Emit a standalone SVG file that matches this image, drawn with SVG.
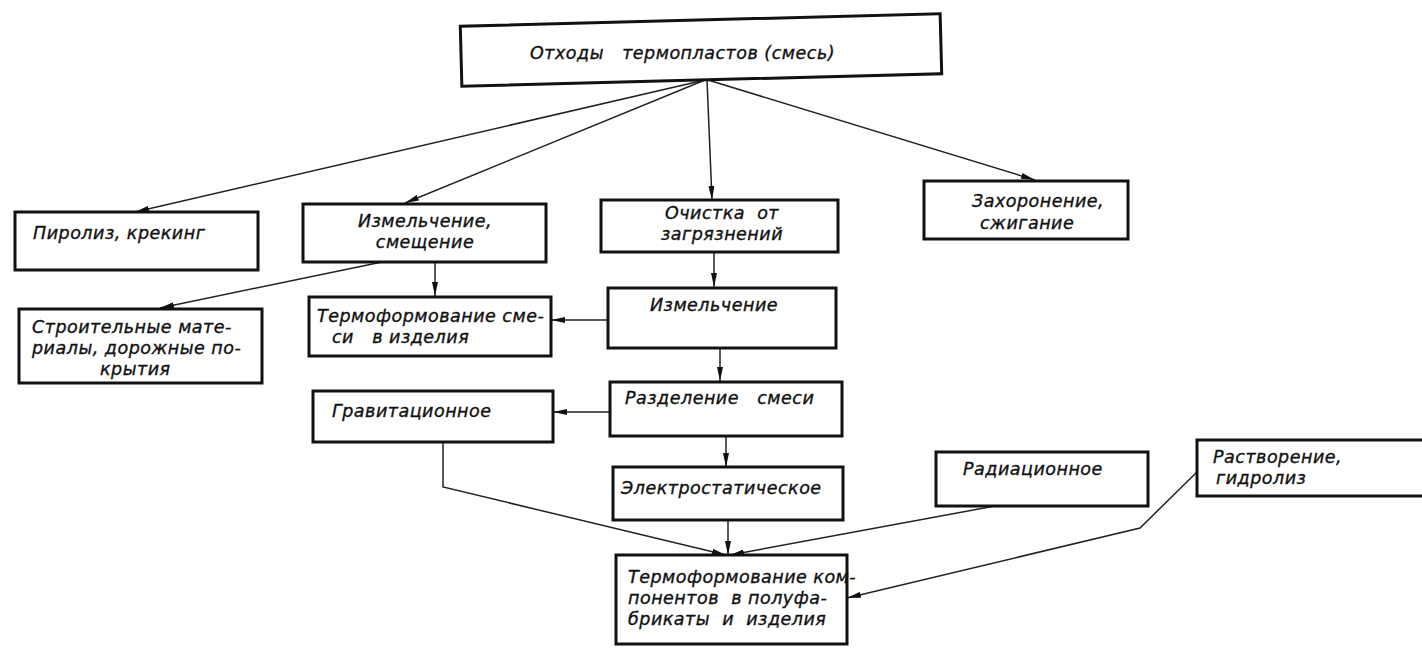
<svg xmlns="http://www.w3.org/2000/svg" width="1422" height="648" viewBox="0 0 1422 648">
<defs>
<marker id="ah" viewBox="0 0 14 6" refX="14" refY="3" markerWidth="14" markerHeight="6" markerUnits="userSpaceOnUse" orient="auto">
<path d="M0,0 L14,3 L0,6 Z" fill="#111"/>
</marker>
<style>
.b{fill:#fff;stroke:#111;stroke-width:3}
.t{font-family:"DejaVu Sans",sans-serif;font-style:italic;font-size:17.5px;letter-spacing:0.5px;fill:#111;stroke:#111;stroke-width:0.35;white-space:pre}
.c{fill:none;stroke:#222;stroke-width:1.5;marker-end:url(#ah)}
</style>
</defs>
<rect x="0" y="0" width="1422" height="648" fill="#fff"/>
<g id="connectors">
<path class="c" d="M705,80 L135,212"/>
<path class="c" d="M705,80 L405,203"/>
<path class="c" d="M707,80 L712,200"/>
<path class="c" d="M708,80 L1035,180"/>
<path class="c" d="M382,262 L160,308"/>
<path class="c" d="M435,262 L435,296"/>
<path class="c" d="M714,252 L714,287"/>
<path class="c" d="M608,320 L551,320"/>
<path class="c" d="M720,348 L720,381"/>
<path class="c" d="M610,412 L553,412"/>
<path class="c" d="M726,436 L726,467"/>
<path class="c" d="M728,520 L728,555"/>
<path class="c" d="M443,442 L443,487 L726,555"/>
<path class="c" d="M995,506 L730,555"/>
<path class="c" d="M1197,472 L1140,528 L847,598"/>
</g>
<g id="n_top"><rect class="b" x="461" y="20" width="480" height="60" transform="rotate(-1.5 701 50)"/><text class="t" x="530" y="59">Отходы   термопластов (смесь)</text></g>
<g id="n_piroliz"><rect class="b" x="15" y="212" width="243" height="58"/><text class="t" x="33" y="239">Пиролиз, крекинг</text></g>
<g id="n_izm1"><rect class="b" x="303" y="204" width="243" height="58"/><text class="t" x="425" y="227" text-anchor="middle">Измельчение,</text><text class="t" x="425" y="248" text-anchor="middle">смещение</text></g>
<g id="n_ochistka"><rect class="b" x="601" y="200" width="237" height="52"/><text class="t" x="722" y="219" text-anchor="middle">Очистка  от</text><text class="t" x="722" y="240" text-anchor="middle">загрязнений</text></g>
<g id="n_zahor"><rect class="b" x="924" y="181" width="204" height="58"/><text class="t" x="972" y="207">Захоронение,</text><text class="t" x="980" y="229">сжигание</text></g>
<g id="n_stroit"><rect class="b" x="19" y="309" width="243" height="74"/><text class="t" x="32" y="333">Строительные мате-</text><text class="t" x="32" y="354">риалы, дорожные по-</text><text class="t" x="100" y="375">крытия</text></g>
<g id="n_termosm"><rect class="b" x="309" y="297" width="242" height="59"/><text class="t" x="317" y="322">Термоформование сме-</text><text class="t" x="332" y="343">си   в изделия</text></g>
<g id="n_izm2"><rect class="b" x="608" y="288" width="228" height="60"/><text class="t" x="650" y="311">Измельчение</text></g>
<g id="n_grav"><rect class="b" x="313" y="391" width="240" height="51"/><text class="t" x="332" y="417">Гравитационное</text></g>
<g id="n_razd"><rect class="b" x="610" y="382" width="232" height="54"/><text class="t" x="625" y="404">Разделение   смеси</text></g>
<g id="n_elektro"><rect class="b" x="613" y="467" width="230" height="53"/><text class="t" x="621" y="494">Электростатическое</text></g>
<g id="n_rad"><rect class="b" x="936" y="452" width="212" height="54"/><text class="t" x="963" y="475">Радиационное</text></g>
<g id="n_rastv"><rect class="b" x="1197" y="440" width="230" height="56"/><text class="t" x="1213" y="463">Растворение,</text><text class="t" x="1216" y="484">гидролиз</text></g>
<g id="n_termokomp"><rect class="b" x="616" y="555" width="231" height="89"/><text class="t" x="628" y="583">Термоформование ком-</text><text class="t" x="628" y="604">понентов  в полуфа-</text><text class="t" x="628" y="625">брикаты  и  изделия</text></g>
</svg>
